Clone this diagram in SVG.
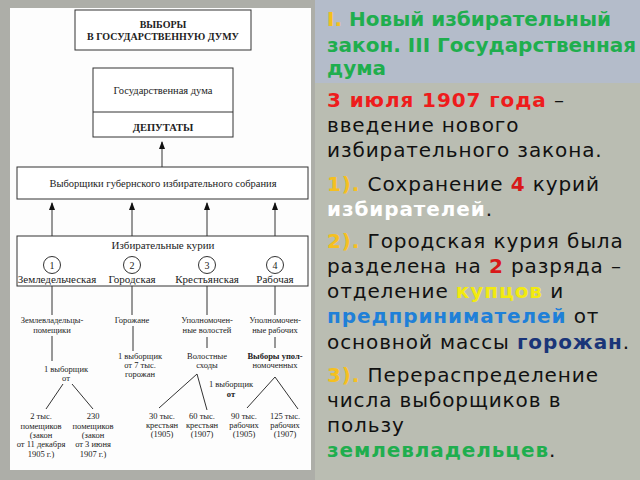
<svg xmlns="http://www.w3.org/2000/svg" width="640" height="480" viewBox="0 0 640 480">
<defs>
<marker id="arr" markerWidth="8" markerHeight="6" refX="7" refY="3" orient="auto" markerUnits="userSpaceOnUse" viewBox="0 0 8 6">
<path d="M0,0 L8,3 L0,6 Z" fill="#111"/>
</marker>
<style>
.box{fill:#fff;stroke:#333;stroke-width:1}
.ln{stroke:#333;stroke-width:1;fill:none}
.t{font-family:"Liberation Serif","Times New Roman",serif;fill:#222;text-anchor:middle}
.s{font-size:8.5px}
.m{font-size:10.5px}
.b{font-weight:bold}
.rt{font-family:"DejaVu Sans",Verdana,sans-serif;font-size:20px;letter-spacing:0.9px;fill:#111}
.hd{font-family:"DejaVu Sans",Verdana,sans-serif;font-size:20px;font-weight:bold;fill:#1fae4e}
.bo{font-weight:bold}
</style>
</defs>
<rect x="0" y="0" width="640" height="480" fill="#adaea8"/>
<rect x="10" y="8" width="301" height="462" fill="#fdfdfd"/>
<rect x="315" y="0" width="325" height="83" fill="#b4bcca"/>
<rect x="315" y="83" width="325" height="397" fill="#babdb2"/>

<g id="title">
<rect class="box" x="75" y="10" width="176" height="40"/>
<text class="t b" x="163" y="28" font-size="10">ВЫБОРЫ</text>
<text class="t b" x="163" y="40" font-size="10">В ГОСУДАРСТВЕННУЮ ДУМУ</text>
</g>
<g id="duma">
<rect class="box" x="93" y="68" width="140" height="69"/>
<line class="ln" x1="93" y1="112" x2="233" y2="112"/>
<text class="t" x="163" y="94" font-size="10.5">Государственная дума</text>
<text class="t b" x="163" y="131" font-size="10.5">ДЕПУТАТЫ</text>
</g>
<g id="electors">
<rect class="box" x="17" y="167" width="291" height="32"/>
<text class="t m" x="163" y="187">Выборщики губернского избирательного собрания</text>
</g>
<g id="curiae">
<rect class="box" x="17" y="236" width="291" height="50"/>
<text class="t" x="163" y="249" font-size="11">Избирательные курии</text>
<circle class="ln" cx="52" cy="265" r="8.5"/>
<circle class="ln" cx="132" cy="265" r="8.5"/>
<circle class="ln" cx="207" cy="265" r="8.5"/>
<circle class="ln" cx="275" cy="265" r="8.5"/>
<text class="t" x="52" y="268.5" font-size="10">1</text>
<text class="t" x="132" y="268.5" font-size="10">2</text>
<text class="t" x="207" y="268.5" font-size="10">3</text>
<text class="t" x="275" y="268.5" font-size="10">4</text>
<text class="t" x="57" y="283" font-size="11">Земледельческая</text>
<text class="t" x="132" y="283" font-size="11">Городская</text>
<text class="t" x="207" y="283" font-size="11">Крестьянская</text>
<text class="t" x="275" y="283" font-size="11">Рабочая</text>
</g>
<g id="c1">
<text class="t s" x="52" y="323">Землевладельцы-</text>
<text class="t s" x="52" y="333">помещики</text>
<text class="t s" x="66" y="372">1 выборщик</text>
<text class="t s" x="66" y="381">от</text>
<text class="t s" x="41" y="419">2 тыс.</text>
<text class="t s" x="41" y="429">помещиков</text>
<text class="t s" x="41" y="438">(закон</text>
<text class="t s" x="41" y="447">от 11 декабря</text>
<text class="t s" x="41" y="457">1905 г.)</text>
<text class="t s" x="93" y="419">230</text>
<text class="t s" x="93" y="429">помещиков</text>
<text class="t s" x="93" y="438">(закон</text>
<text class="t s" x="93" y="447">от 3 июня</text>
<text class="t s" x="93" y="457">1907 г.)</text>
</g>
<g id="c2">
<text class="t s" x="132" y="323">Горожане</text>
<text class="t s" x="140" y="359">1 выборщик</text>
<text class="t s" x="140" y="368">от 7 тыс.</text>
<text class="t s" x="140" y="377">горожан</text>
</g>
<g id="c3">
<text class="t s" x="207" y="323">Уполномочен-</text>
<text class="t s" x="207" y="333">ные волостей</text>
<text class="t s" x="207" y="359">Волостные</text>
<text class="t s" x="207" y="368">сходы</text>
<text class="t s" x="231" y="387">1 выборщик</text>
<text class="t s b" x="231" y="397">от</text>
<text class="t s" x="162" y="419">30 тыс.</text>
<text class="t s" x="162" y="428">крестьян</text>
<text class="t s" x="162" y="437">(1905)</text>
<text class="t s" x="202" y="419">60 тыс.</text>
<text class="t s" x="202" y="428">крестьян</text>
<text class="t s" x="202" y="437">(1907)</text>
</g>
<g id="c4">
<text class="t s" x="275" y="323">Уполномочен-</text>
<text class="t s" x="275" y="333">ные рабочих</text>
<text class="t s b" x="275" y="359">Выборы упол-</text>
<text class="t s" x="275" y="368">номоченных</text>
<text class="t s" x="244" y="419">90 тыс.</text>
<text class="t s" x="244" y="428">рабочих</text>
<text class="t s" x="244" y="437">(1905)</text>
<text class="t s" x="285" y="419">125 тыс.</text>
<text class="t s" x="285" y="428">рабочих</text>
<text class="t s" x="285" y="437">(1907)</text>
</g>
<g id="connectors">
<line class="ln" x1="162" y1="167" x2="162" y2="142" marker-end="url(#arr)"/>
<line class="ln" x1="52" y1="236" x2="52" y2="203" marker-end="url(#arr)"/>
<line class="ln" x1="132" y1="236" x2="132" y2="203" marker-end="url(#arr)"/>
<line class="ln" x1="207" y1="236" x2="207" y2="203" marker-end="url(#arr)"/>
<line class="ln" x1="275" y1="236" x2="275" y2="203" marker-end="url(#arr)"/>
<line class="ln" x1="52" y1="286" x2="52" y2="315"/>
<line class="ln" x1="132" y1="286" x2="132" y2="315"/>
<line class="ln" x1="207" y1="286" x2="207" y2="315"/>
<line class="ln" x1="275" y1="286" x2="275" y2="315"/>
<line class="ln" x1="52" y1="336" x2="52" y2="361"/>
<line class="ln" x1="133" y1="326" x2="133" y2="351"/>
<line class="ln" x1="207" y1="337" x2="207" y2="348"/>
<line class="ln" x1="275" y1="337" x2="275" y2="348"/>
<polyline class="ln" points="46,409 63,384"/>
<polyline class="ln" points="72,384 93,409"/>
<polyline class="ln" points="159,408 197,374 207,410"/>
<polyline class="ln" points="247,408 275,377 298,409"/>
</g>

<g id="heading">
<text class="hd" x="327" y="26"><tspan fill="#f2c01c">I.</tspan> Новый избирательный</text>
<text class="hd" x="327" y="52">закон. III Государственная</text>
<text class="hd" x="327" y="75">дума</text>
</g>
<g id="body">
<text class="rt" x="327" y="107"><tspan class="bo" fill="#ee1c1c">3 июля 1907 года</tspan> –</text>
<text class="rt" x="327" y="132">введение нового</text>
<text class="rt" x="327" y="157">избирательного закона.</text>
<text class="rt" x="327" y="191"><tspan class="bo" fill="#f5c020">1).</tspan> Сохранение <tspan class="bo" fill="#d81818">4</tspan> курий</text>
<text class="rt" x="327" y="216"><tspan class="bo" fill="#ffffff">избирателей</tspan>.</text>
<text class="rt" x="327" y="248"><tspan class="bo" fill="#f5c020">2).</tspan> Городская курия была</text>
<text class="rt" x="327" y="273">разделена на <tspan class="bo" fill="#d81818">2</tspan> разряда –</text>
<text class="rt" x="327" y="298">отделение <tspan class="bo" fill="#f2ea10">купцов</tspan> и</text>
<text class="rt" x="327" y="323"><tspan class="bo" fill="#1f80d8">предпринимателей</tspan> от</text>
<text class="rt" x="327" y="349">основной массы <tspan class="bo" fill="#1a3578">горожан</tspan>.</text>
<text class="rt" x="327" y="382"><tspan class="bo" fill="#f5c020">3).</tspan> Перераспределение</text>
<text class="rt" x="327" y="407">числа выборщиков в</text>
<text class="rt" x="327" y="432">пользу</text>
<text class="rt" x="327" y="457"><tspan class="bo" fill="#1fae4e">землевладельцев</tspan>.</text>
</g>
</svg>
